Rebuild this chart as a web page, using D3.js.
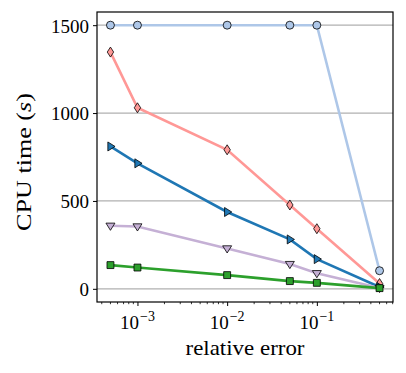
<!DOCTYPE html>
<html><head><meta charset="utf-8">
<script src="https://cdn.jsdelivr.net/npm/d3@7"></script>
<style>body{margin:0;background:#fff}svg{display:block}text{font-family:"Liberation Serif","DejaVu Serif",serif;fill:#000}</style>
</head><body>
<script>
const errors = [5e-4, 1e-3, 1e-2, 5e-2, 1e-1, 5e-1];
const seriesCircle   = [1500, 1500, 1500, 1500, 1500, 103];
const seriesDiamond  = [1347, 1030, 791, 477, 342, 30];
const seriesTriRight = [810, 714, 437, 281, 169, 10];
const seriesTriDown  = [359, 355, 230, 141, 89, 5];
const seriesSquare   = [135, 121, 78, 44, 34, 4];
const yTicks = [0, 500, 1000, 1500];
const xTicks = [1e-3, 1e-2, 1e-1];
const xTickExp = ["−3", "−2", "−1"];

const series = [
  {v: seriesCircle, color: "#aec7e8", m: "circle"},
  {v: seriesDiamond, color: "#ff9896", m: "diamond"},
  {v: seriesTriRight, color: "#1f77b4", m: "triRight"},
  {v: seriesTriDown, color: "#c5b0d5", m: "triDown"},
  {v: seriesSquare, color: "#2ca02c", m: "square"}
];

const W = 406, H = 373;
const L = 97, R = 393, T = 12, B = 302;
const svg = d3.select("body").append("svg").attr("width", W).attr("height", H);
const x = d3.scaleLog().domain([Math.pow(10, -3.451), Math.pow(10, -0.151)]).range([L, R]);
const y = d3.scaleLinear().domain([-75, 1575]).range([B, T]);

// grid
svg.append("g").selectAll("line").data(yTicks).join("line")
  .attr("x1", L).attr("x2", R).attr("y1", d => y(d)).attr("y2", d => y(d))
  .attr("stroke", "#b0b0b0").attr("stroke-width", 1.2);

// y axis
const ya = svg.append("g").attr("transform", `translate(${L},0)`)
  .call(d3.axisLeft(y).tickValues(yTicks).tickSize(4).tickPadding(4).tickFormat(d3.format("d")));
ya.select(".domain").remove();
ya.selectAll("line").attr("stroke", "#000").attr("stroke-width", 1);
ya.selectAll("text").style("font-size", "19px").attr("font-family", null).attr("dy", "0.36em");

// x axis major
const xa = svg.append("g").attr("transform", `translate(0,${B})`)
  .call(d3.axisBottom(x).tickValues(xTicks).tickSize(4).tickFormat(""));
xa.select(".domain").remove();
xa.selectAll("line").attr("stroke", "#000").attr("stroke-width", 1);
// minor ticks
const minor = [];
for (let e = -4; e <= 0; e++) for (let k = 2; k <= 9; k++) {
  const v = k * Math.pow(10, e);
  if (x(v) >= L && x(v) <= R) minor.push(v);
}
svg.append("g").selectAll("line").data(minor).join("line")
  .attr("x1", d => x(d)).attr("x2", d => x(d)).attr("y1", B).attr("y2", B + 2.2)
  .attr("stroke", "#000").attr("stroke-width", 0.8);
// x tick labels
const xl = svg.append("g").selectAll("text").data(xTicks).join("text")
  .attr("x", d => x(d)).attr("y", 329).attr("text-anchor", "middle").style("font-size", "19px");
xl.append("tspan").text("10");
xl.append("tspan").text((d, i) => xTickExp[i]).attr("dy", -8).attr("dx", 1).style("font-size", "14px");

// lines and markers
const line = d3.line().x((d, i) => x(errors[i])).y(d => y(d));
const sym = {
  circle: d3.symbol().type(d3.symbolCircle).size(50),
  square: d3.symbol().type(d3.symbolSquare).size(48)
};
function markerPath(m) {
  if (sym[m]) return sym[m]();
  if (m === "diamond") return "M0,-5 L3.2,0 L0,5 L-3.2,0Z";
  if (m === "triRight") return "M4.6,0 L-2.6,-4.5 L-2.6,4.5Z";
  if (m === "triDown") return "M0,4.6 L-4.5,-2.6 L4.5,-2.6Z";
}
series.forEach(s => {
  svg.append("path").datum(s.v).attr("d", line).attr("fill", "none")
    .attr("stroke", s.color).attr("stroke-width", 2.6);
  svg.append("g").selectAll("path").data(s.v).join("path")
    .attr("d", markerPath(s.m))
    .attr("transform", (d, i) => `translate(${x(errors[i])},${y(d)})`)
    .attr("fill", s.color).attr("stroke", "#000").attr("stroke-width", 0.8);
});

// frame
svg.append("rect").attr("x", L).attr("y", T).attr("width", R - L).attr("height", B - T)
  .attr("fill", "none").attr("stroke", "#000").attr("stroke-width", 1.2);

// labels (stretched horizontally to mimic the wider Computer Modern glyphs)
const xlab = svg.append("text").attr("text-anchor", "middle").style("font-size", "20px").text("relative error");
const xw = xlab.node().getComputedTextLength();
xlab.attr("transform", `translate(${(L + R) / 2},355) scale(${119 / xw},1)`);

const yl = svg.append("text").attr("text-anchor", "middle").style("font-size", "20px");
yl.append("tspan").text("CPU time (");
yl.append("tspan").text("s").style("font-style", "italic");
yl.append("tspan").text(")");
const yw = yl.node().getComputedTextLength();
yl.attr("transform", `translate(31,162) rotate(-90) scale(${138 / yw},1)`);
</script>
</body></html>
